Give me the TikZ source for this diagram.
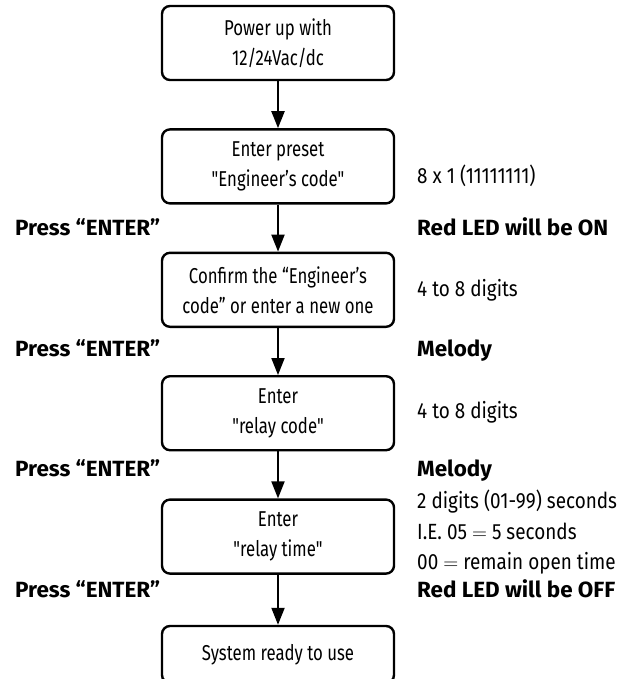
\documentclass[tikz,border=0pt]{standalone}
\usepackage{fontspec}
\setmainfont{Fira Sans}
\newfontfamily\boxfont[FakeStretch=0.78]{Fira Sans}
\newfontfamily\sidefont[FakeStretch=0.86]{Fira Sans}
\newfontfamily\keyfont[FakeStretch=1.02]{Fira Sans}
\usetikzlibrary{positioning,arrows.meta}

\tikzset{
  stepbox/.style={draw, line width=2.4pt, rounded corners=8pt, minimum width=232pt,
    minimum height=74pt, align=center, inner sep=4pt,
    font=\fontsize{21.5}{30}\selectfont\boxfont},
  flow/.style={line width=2pt, -{Triangle[length=17pt,width=13pt]}},
  keynote/.style={anchor=base west, font=\fontsize{22}{30}\selectfont\keyfont\bfseries, inner sep=0pt},
  sidenote/.style={anchor=base west, font=\fontsize{22}{30}\selectfont\sidefont, inner sep=0pt},
}

\begin{document}
\begin{tikzpicture}[x=1pt, y=-1pt, node distance=47pt]

\useasboundingbox (0,0) rectangle (624,679);

% the steps
\node[stepbox] (power) at (278,43) {Power up with\\12/24Vac/dc};
\node[stepbox, below=of power] (preset) {Enter preset\\"Engineer’s code"};
\node[stepbox, below=of preset] (confirm) {Confirm the “Engineer’s\\code” or enter a new one};
\node[stepbox, below=of confirm] (rcode) {Enter\\"relay code"};
\node[stepbox, below=of rcode] (rtime) {Enter\\"relay time"};
\node[stepbox, below=50pt of rtime, minimum height=57pt] (ready) {System ready to use};

\draw[flow] (power) -- (preset);
\draw[flow] (preset) -- (confirm);
\draw[flow] (confirm) -- (rcode);
\draw[flow] (rcode) -- (rtime);
\draw[flow] (rtime) -- (ready);

% keys pressed
\node[keynote] (enter1) at (15,235) {Press “ENTER”};
\node[keynote] (enter2) at (15,356) {Press “ENTER”};
\node[keynote] (enter3) at (15,476) {Press “ENTER”};
\node[keynote] (enter4) at (15,597) {Press “ENTER”};

% what the unit answers
\node[sidenote] (eightx) at (417,183) {8 x 1 (11111111)};
\node[keynote] (ledon) at (417,235) {Red LED will be ON};
\node[sidenote] (digitsa) at (417,296) {4 to 8 digits};
\node[keynote] (melodya) at (417,356) {Melody};
\node[sidenote] (digitsb) at (417,418) {4 to 8 digits};
\node[keynote] (melodyb) at (417,476) {Melody};
\node[sidenote] (twodig) at (417,508) {2 digits (01-99) seconds};
\node[sidenote] (ie) at (417,539) {I.E. 05 $=$ 5 seconds};
\node[sidenote] (remain) at (417,569) {00 $=$ remain open time};
\node[keynote] (ledoff) at (417,597) {Red LED will be OFF};

\end{tikzpicture}
\end{document}
